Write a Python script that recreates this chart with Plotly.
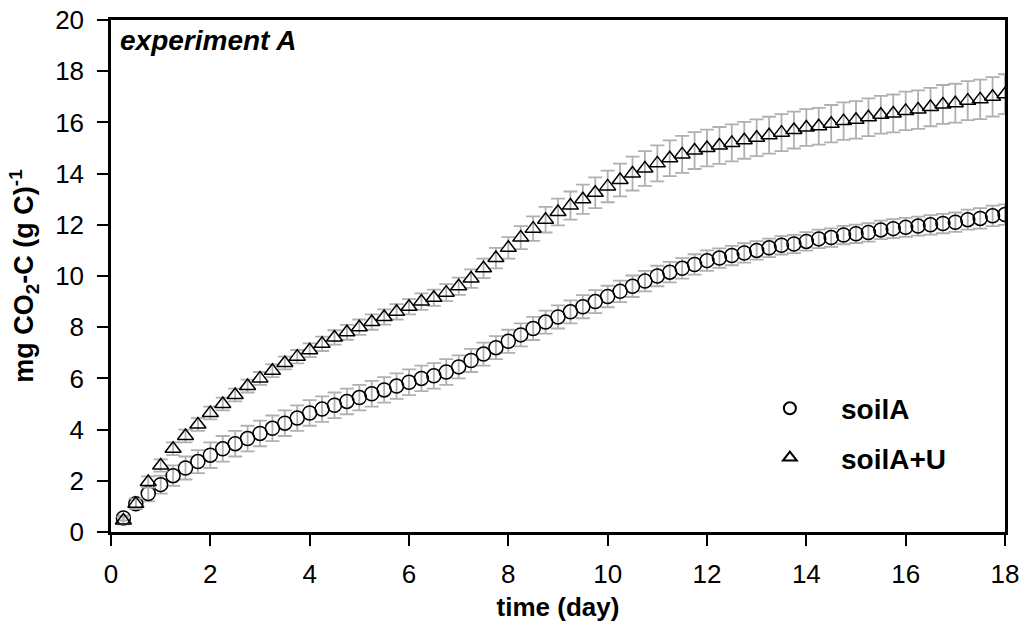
import plotly.graph_objects as go

days = [round(0.25 * i, 2) for i in range(1, 73)]

soilA = [0.55, 1.1, 1.5, 1.85, 2.2, 2.5, 2.75, 3.0, 3.25, 3.45, 3.65, 3.85,
         4.05, 4.25, 4.45, 4.65, 4.8, 4.95, 5.1, 5.25, 5.4, 5.55, 5.7, 5.85,
         6.0, 6.1, 6.25, 6.45, 6.7, 6.95, 7.2, 7.45, 7.7, 7.95, 8.2, 8.4,
         8.6, 8.8, 9.0, 9.2, 9.4, 9.6, 9.8, 10.0, 10.15, 10.3, 10.45, 10.6,
         10.7, 10.8, 10.9, 11.0, 11.1, 11.2, 11.25, 11.35, 11.45, 11.5, 11.6, 11.65,
         11.7, 11.8, 11.85, 11.9, 11.95, 12.0, 12.05, 12.1, 12.2, 12.25, 12.35, 12.4]

soilA_err = [0.1, 0.2, 0.3, 0.35, 0.4, 0.45, 0.45, 0.5, 0.5, 0.5, 0.5, 0.5,
             0.5, 0.5, 0.5, 0.5, 0.5, 0.5, 0.5, 0.5, 0.5, 0.5, 0.5, 0.5,
             0.5, 0.5, 0.5, 0.45, 0.45, 0.45, 0.45, 0.45, 0.45, 0.45, 0.45, 0.45,
             0.45, 0.45, 0.45, 0.42, 0.42, 0.42, 0.4, 0.4, 0.4, 0.4, 0.4, 0.4,
             0.38, 0.38, 0.38, 0.36, 0.36, 0.36, 0.36, 0.36, 0.36, 0.36, 0.36, 0.36,
             0.36, 0.36, 0.37, 0.37, 0.37, 0.38, 0.38, 0.38, 0.39, 0.4, 0.4, 0.4]

soilAU = [0.45, 1.1, 1.95, 2.6, 3.25, 3.75, 4.2, 4.65, 5.0, 5.35, 5.7, 6.0,
          6.3, 6.6, 6.85, 7.1, 7.35, 7.6, 7.8, 8.0, 8.2, 8.4, 8.6, 8.8,
          9.0, 9.15, 9.35, 9.6, 9.9, 10.3, 10.7, 11.1, 11.5, 11.85, 12.2, 12.5,
          12.75, 13.0, 13.25, 13.5, 13.75, 14.0, 14.2, 14.4, 14.6, 14.75, 14.9, 15.0,
          15.1, 15.2, 15.3, 15.4, 15.5, 15.6, 15.7, 15.8, 15.85, 15.95, 16.05, 16.1,
          16.2, 16.3, 16.35, 16.45, 16.5, 16.6, 16.7, 16.75, 16.85, 16.9, 17.0, 17.1]

soilAU_err = [0.15, 0.2, 0.22, 0.24, 0.25, 0.25, 0.25, 0.25, 0.25, 0.25, 0.25, 0.25,
              0.25, 0.25, 0.26, 0.27, 0.28, 0.28, 0.29, 0.3, 0.3, 0.3, 0.3, 0.3,
              0.32, 0.32, 0.33, 0.34, 0.36, 0.38, 0.4, 0.42, 0.45, 0.48, 0.5, 0.52,
              0.55, 0.57, 0.6, 0.62, 0.64, 0.66, 0.68, 0.7, 0.7, 0.72, 0.72, 0.72,
              0.72, 0.72, 0.72, 0.72, 0.72, 0.72, 0.72, 0.72, 0.72, 0.73, 0.73, 0.73,
              0.74, 0.74, 0.74, 0.75, 0.75, 0.75, 0.76, 0.76, 0.76, 0.77, 0.77, 0.78]

x_ticks = [0, 2, 4, 6, 8, 10, 12, 14, 16, 18]
y_ticks = [0, 2, 4, 6, 8, 10, 12, 14, 16, 18, 20]

FONT = "Liberation Sans, Arial, sans-serif"
ERR_COLOR = "#b0b0b0"
PAD = "\u00a0\u00a0\u00a0\u00a0"

fig = go.Figure()
fig.add_trace(go.Scatter(
    x=days, y=soilA, mode="markers", name=PAD + "soilA", legendgroup="a",
    marker=dict(symbol="circle-open", size=14, color="black", line=dict(width=1.5, color="black")),
    error_y=dict(type="data", array=soilA_err, visible=True, color=ERR_COLOR, thickness=1.8, width=7),
))
fig.add_trace(go.Scatter(
    x=days, y=soilAU, mode="markers", name=PAD + "soilA+U", legendgroup="b",
    marker=dict(symbol="triangle-up-open", size=14, color="black", line=dict(width=1.5, color="black")),
    error_y=dict(type="data", array=soilAU_err, visible=True, color=ERR_COLOR, thickness=1.8, width=7),
))

fig.update_layout(
    width=1021, height=631,
    margin=dict(l=111, r=16, t=20, b=99, autoexpand=False),
    paper_bgcolor="white", plot_bgcolor="white",
    font=dict(family=FONT, color="black", size=26),
    showlegend=True,
    legend=dict(x=0.737, y=0.29, xanchor="left", yanchor="top",
                font=dict(size=28, family=FONT, color="black", weight="bold"),
                bgcolor="rgba(0,0,0,0)", itemsizing="constant",
                tracegroupgap=10),
    xaxis=dict(range=[0, 18], tickvals=x_ticks, ticks="outside", ticklen=11, tickwidth=2,
               tickcolor="black", showline=True, linecolor="black", linewidth=2.5, mirror=True,
               showgrid=False, zeroline=False, tickfont=dict(size=26), automargin=False,
               ticklabelstandoff=6,
               title=dict(text="time (day)", font=dict(size=26, weight="bold"), standoff=10)),
    yaxis=dict(range=[0, 20], tickvals=y_ticks, ticks="outside", ticklen=11, tickwidth=2,
               tickcolor="black", showline=True, linecolor="black", linewidth=2.5, mirror=True,
               showgrid=False, zeroline=False, tickfont=dict(size=26), automargin=False,
               ticklabelstandoff=8,
               title=dict(text="mg CO<sub>2</sub>-C (g C)<sup>-1</sup>", font=dict(size=27, weight="bold"), standoff=14)),
)

fig.add_annotation(xref="paper", yref="paper", x=0.008, y=0.995, xanchor="left", yanchor="top",
                   text="<b><i>experiment A</i></b>", showarrow=False,
                   font=dict(size=28, family=FONT, color="black"))

fig.write_html("out.html")
